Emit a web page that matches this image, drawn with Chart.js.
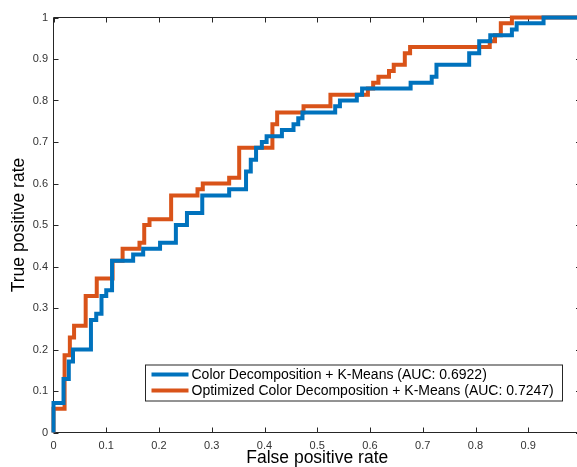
<!DOCTYPE html>
<html>
<head>
<meta charset="utf-8">
<script src="https://cdn.jsdelivr.net/npm/chart.js@4.4.0/dist/chart.umd.min.js"></script>
<style>
  html, body { margin: 0; padding: 0; overflow: hidden; background: #fff; }
  #wrap { width: 577px; height: 467px; overflow: hidden; }
</style>
</head>
<body>
<div id="wrap"><canvas id="roc" width="582" height="467"></canvas></div>
<script>
// ROC curves (staircase corners: x where the curve rises, new y)
const seriesLabels = [
  "Color Decomposition + K-Means (AUC: 0.6922)",
  "Optimized Color Decomposition + K-Means (AUC: 0.7247)",
]
const seriesColors = ["#0072BD", "#D95319"]

const blueFpr = [0, 0, 0.019, 0.029, 0.037, 0.071, 0.081, 0.091, 0.100, 0.111, 0.151, 0.170, 0.202, 0.232, 0.253, 0.282, 0.333, 0.365, 0.374, 0.384, 0.395, 0.404, 0.433, 0.455, 0.464, 0.472, 0.534, 0.543, 0.575, 0.585, 0.677, 0.717, 0.726, 0.788, 0.807, 0.828, 0.869, 0.878, 0.929, 1]
const blueTpr = [0, 0.071, 0.129, 0.171, 0.200, 0.271, 0.286, 0.329, 0.343, 0.414, 0.429, 0.443, 0.457, 0.500, 0.529, 0.571, 0.586, 0.629, 0.657, 0.686, 0.700, 0.714, 0.729, 0.743, 0.757, 0.771, 0.786, 0.800, 0.814, 0.829, 0.843, 0.857, 0.886, 0.914, 0.943, 0.957, 0.971, 0.986, 1, 1]

const orangeFpr = [0, 0, 0.021, 0.031, 0.039, 0.061, 0.082, 0.112, 0.131, 0.163, 0.172, 0.182, 0.223, 0.273, 0.283, 0.333, 0.352, 0.415, 0.424, 0.474, 0.525, 0.596, 0.606, 0.616, 0.636, 0.645, 0.666, 0.676, 0.827, 0.837, 0.848, 0.869, 1]
const orangeTpr = [0, 0.057, 0.186, 0.229, 0.257, 0.329, 0.371, 0.414, 0.443, 0.457, 0.500, 0.514, 0.571, 0.586, 0.600, 0.614, 0.686, 0.743, 0.771, 0.786, 0.814, 0.829, 0.843, 0.857, 0.871, 0.886, 0.914, 0.929, 0.943, 0.957, 0.986, 1, 1]

const toPoints = (xs, ys) => xs.map((x, i) => ({ x: x, y: ys[i] }))
const fmtTick = (v) => String(Math.round(v * 10) / 10)

Chart.defaults.font.family = "'Liberation Sans', Arial, sans-serif"
Chart.defaults.color = "#333"

// MATLAB-like box with inward ticks, drawn under the lines
const axesBox = {
  id: "axesBox",
  beforeDatasetsDraw(chart) {
    const { ctx, chartArea: a, scales } = chart
    const tl = 5
    ctx.save()
    ctx.strokeStyle = "#262626"
    ctx.lineWidth = 1
    ctx.beginPath()
    ctx.moveTo(a.left, a.bottom)
    ctx.lineTo(a.left, a.top)
    ctx.lineTo(a.right, a.top)
    ctx.lineTo(a.right, a.bottom)
    ctx.closePath()
    scales.x.ticks.forEach((t) => {
      const px = Math.round(scales.x.getPixelForValue(t.value)) + 0.5
      ctx.moveTo(px, a.bottom)
      ctx.lineTo(px, a.bottom - tl)
      ctx.moveTo(px, a.top)
      ctx.lineTo(px, a.top + tl)
    })
    scales.y.ticks.forEach((t) => {
      const py = Math.round(scales.y.getPixelForValue(t.value)) + 0.5
      ctx.moveTo(a.left, py)
      ctx.lineTo(a.left + tl, py)
      ctx.moveTo(a.right, py)
      ctx.lineTo(a.right - tl, py)
    })
    ctx.stroke()
    ctx.restore()
  },
}

// legend box in the lower right of the plot
const boxLegend = {
  id: "boxLegend",
  afterDatasetsDraw(chart) {
    const { ctx, chartArea: a } = chart
    const w = 417, h = 36
    const x0 = a.right - 19 - w + 0.5
    const y0 = a.bottom - 32 - h + 0.5
    ctx.save()
    ctx.fillStyle = "#fff"
    ctx.strokeStyle = "#262626"
    ctx.lineWidth = 1
    ctx.fillRect(x0, y0, w, h)
    ctx.strokeRect(x0, y0, w, h)
    ctx.font = "14px 'Liberation Sans', Arial, sans-serif"
    ctx.textBaseline = "middle"
    ctx.fillStyle = "#000"
    chart.data.datasets.forEach((ds, i) => {
      const cy = y0 + 9.5 + i * 16
      ctx.strokeStyle = ds.borderColor
      ctx.lineWidth = 4
      ctx.beginPath()
      ctx.moveTo(x0 + 6, cy)
      ctx.lineTo(x0 + 43, cy)
      ctx.stroke()
      ctx.fillText(ds.label, x0 + 46, cy + 1)
    })
    ctx.restore()
  },
}

const rocChart = new Chart(document.getElementById("roc"), {
  type: "scatter",
  data: {
    datasets: [
      {
        label: seriesLabels[0],
        data: toPoints(blueFpr, blueTpr),
        borderColor: seriesColors[0],
        backgroundColor: seriesColors[0],
        borderWidth: 4,
        showLine: true,
        stepped: "before",
        pointRadius: 0,
        clip: 6,
      },
      {
        label: seriesLabels[1],
        data: toPoints(orangeFpr, orangeTpr),
        borderColor: seriesColors[1],
        backgroundColor: seriesColors[1],
        borderWidth: 4,
        showLine: true,
        stepped: "before",
        pointRadius: 0,
        clip: 6,
      },
    ],
  },
  options: {
    responsive: false,
    animation: false,
    devicePixelRatio: 1,
    layout: { padding: { top: 17.5, right: 1, left: 0, bottom: 0 } },
    plugins: { legend: { display: false }, tooltip: { enabled: false } },
    scales: {
      x: {
        type: "linear",
        min: 0,
        max: 1,
        grid: { display: false, drawTicks: false },
        border: { display: false },
        ticks: { stepSize: 0.1, autoSkip: false, maxRotation: 0, padding: 7, font: { size: 11 }, color: "#333", callback: fmtTick },
        title: { display: true, text: "False positive rate", font: { size: 17.5, lineHeight: 1 }, color: "#000", padding: { top: -2, bottom: 0 } },
        afterFit: (s) => {
          s.height = 34.5
          s.paddingLeft = 0
          s.paddingRight = 0
        },
      },
      y: {
        type: "linear",
        min: 0,
        max: 1,
        grid: { display: false, drawTicks: false },
        border: { display: false },
        ticks: { stepSize: 0.1, autoSkip: false, padding: 5.5, font: { size: 11 }, color: "#333", callback: fmtTick },
        title: { display: true, text: "True positive rate", font: { size: 17.5 }, color: "#000", padding: { top: 9, bottom: 0 } },
        afterFit: (s) => {
          s.width = 53.5
          s.paddingTop = 0
          s.paddingBottom = 0
        },
      },
    },
  },
  plugins: [axesBox, boxLegend],
})
</script>
</body>
</html>
